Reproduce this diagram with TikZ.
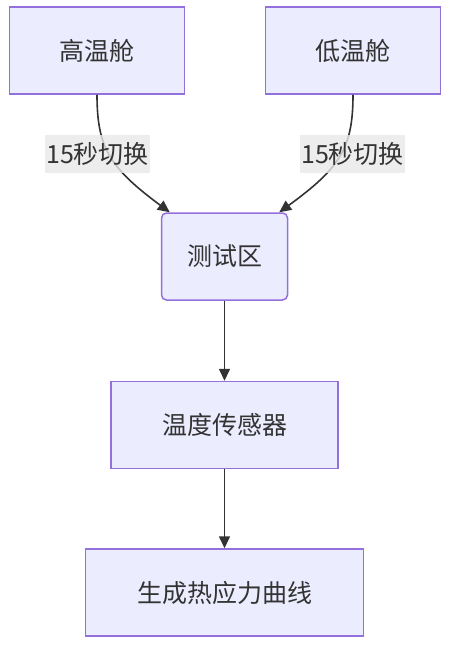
\documentclass[tikz,border=0pt]{standalone}
\usepackage{fontspec}
\setmainfont{Noto Sans CJK SC}
\usetikzlibrary{arrows.meta}
\definecolor{boxfill}{HTML}{ECECFF}
\definecolor{boxline}{HTML}{9370DB}
\definecolor{txt}{HTML}{333333}
\definecolor{lblbg}{HTML}{E8E8E8}
\tikzset{
  box/.style={draw=boxline, fill=boxfill, line width=1.5pt, text=txt, font=\fontsize{25}{29}\selectfont, minimum height=87pt, inner sep=0pt},
  lbl/.style={fill=lblbg, fill opacity=0.8, text opacity=1, text=txt, font=\fontsize{25}{29}\selectfont, minimum height=38pt, minimum width=105pt, inner xsep=0pt, inner ysep=0pt},
  conn/.style={draw=txt, line width=1.6pt, -{Triangle[length=12pt,width=11pt]}}
}
\begin{document}
\begin{tikzpicture}[x=1pt,y=-1pt]
\useasboundingbox (0,0) rectangle (450,647);
\node[box, minimum width=175pt] (hi) at (97,50.5) {高温舱};
\node[box, minimum width=175pt] (lo) at (353,50.5) {低温舱};
\node[box, minimum width=126pt, rounded corners=5pt] (test) at (224.5,256.5) {测试区};
\node[box, minimum width=227pt] (sens) at (224.5,425) {温度传感器};
\node[box, minimum width=278pt] (gen) at (224.5,592.5) {生成热应力曲线};
\draw[conn] (hi.south) .. controls (97,148) and (110,168) .. ([xshift=9pt]test.north west);
\draw[conn] (lo.south) .. controls (353,148) and (340,168) .. ([xshift=-9pt]test.north east);
\node[lbl] (l1) at (97.5,154) {15秒切换};
\node[lbl] (l2) at (352.5,154) {15秒切换};
\draw[conn] (test) -- (sens);
\draw[conn] (sens) -- (gen);
\end{tikzpicture}
\end{document}
